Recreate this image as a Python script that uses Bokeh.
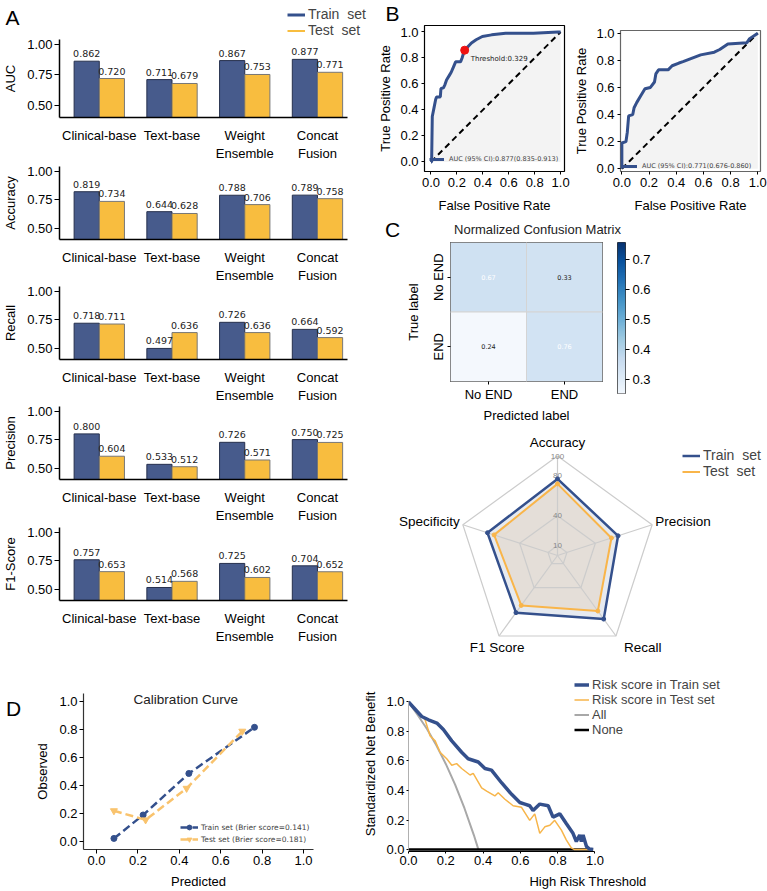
import numpy as np
from bokeh.plotting import figure
from bokeh.layouts import row, column
from bokeh.models import (ColumnDataSource, FixedTicker, Legend, LegendItem,
                          Spacer, LinearColorMapper, NumeralTickFormatter, FactorRange)
from bokeh.transform import dodge
from bokeh.core.properties import value
from bokeh.palettes import Blues256
from bokeh.embed import file_html
from bokeh.resources import INLINE

SANS = "Liberation Sans"
MPL = "DejaVu Sans"
NAVY = "#475b8c"
GOLD = "#f8bd3f"
LINE_NAVY = "#34508c"
LINE_GOLD = "#f8b84e"

# ---------------- Panel A: metrics per model ----------------
models = ["Clinical-base", "Text-base", "Weight\nEnsemble", "Concat\nFusion"]
auc_train = [0.862, 0.711, 0.867, 0.877]
auc_test = [0.720, 0.679, 0.753, 0.771]
acc_train = [0.819, 0.644, 0.788, 0.789]
acc_test = [0.734, 0.628, 0.706, 0.758]
rec_train = [0.718, 0.497, 0.726, 0.664]
rec_test = [0.711, 0.636, 0.636, 0.592]
prec_train = [0.800, 0.533, 0.726, 0.750]
prec_test = [0.604, 0.512, 0.571, 0.725]
f1_train = [0.757, 0.514, 0.725, 0.704]
f1_test = [0.653, 0.568, 0.602, 0.652]
bar_ticks = [0.50, 0.75, 1.00]

# ---------------- Panel B: ROC curves ----------------
roc_train_fpr = [0.0, 0.005, 0.01, 0.024, 0.036, 0.043, 0.072, 0.077, 0.096, 0.108, 0.12, 0.144,
                 0.156, 0.173, 0.19, 0.228, 0.24, 0.252, 0.268, 0.288, 0.312, 0.348, 0.396,
                 0.468, 0.576, 0.79, 0.98, 1.0]
roc_train_tpr = [0.0, 0.0, 0.35, 0.42, 0.48, 0.50, 0.50, 0.565, 0.57, 0.595, 0.63, 0.67,
                 0.69, 0.73, 0.77, 0.77, 0.80, 0.84, 0.867, 0.89, 0.916, 0.94, 0.965,
                 0.978, 0.99, 0.99, 1.0, 1.0]
roc_test_fpr = [0.0, 0.0, 0.03, 0.04, 0.05, 0.08, 0.09, 0.11, 0.14, 0.17, 0.21, 0.24, 0.25,
                0.27, 0.34, 0.37, 0.42, 0.45, 0.58, 0.68, 0.72, 0.78, 0.92, 0.94, 1.0]
roc_test_tpr = [0.0, 0.19, 0.20, 0.27, 0.39, 0.40, 0.45, 0.49, 0.54, 0.59, 0.60, 0.64, 0.70,
                0.73, 0.73, 0.76, 0.78, 0.79, 0.84, 0.86, 0.88, 0.92, 0.93, 0.96, 1.0]
chance = [0.0, 1.0]
cutoff_fpr, cutoff_tpr, cutoff_value = 0.26, 0.86, 0.329
auc_train_text = "AUC (95% CI):0.877(0.835-0.913)"
auc_test_text = "AUC (95% CI):0.771(0.676-0.860)"
rate_ticks = [0.0, 0.2, 0.4, 0.6, 0.8, 1.0]

# ---------------- Panel C: confusion matrix and radar ----------------
cm_labels = ["No END", "END"]
cm_true = ["No END", "No END", "END", "END"]
cm_pred = ["No END", "END", "No END", "END"]
cm_vals = [0.67, 0.33, 0.24, 0.76]
cm_fill = ["#cfe1f2", "#d1e2f2", "#f4f8fd", "#d2e3f3"]
cm_text_color = ["white", "#222222", "#222222", "white"]
cbar_low, cbar_high = 0.24, 0.76
cbar_ticks = [0.3, 0.4, 0.5, 0.6, 0.7]

radar_axes = ["Accuracy", "Precision", "Recall", "F1 Score", "Specificity"]
radar_train = [77, 64, 79, 71, 74]
radar_test = [72, 57, 69, 62, 67]
radar_tick_vals = [10, 40, 80, 100]
radar_rings = [10, 40, 100]

# ---------------- Panel D: calibration and decision curves ----------------
cal_train_pred = [0.084, 0.225, 0.446, 0.763]
cal_train_obs = [0.023, 0.19, 0.486, 0.815]
cal_test_pred = [0.084, 0.237, 0.435, 0.704]
cal_test_obs = [0.22, 0.155, 0.38, 0.787]
unit_ticks = [0.0, 0.2, 0.4, 0.6, 0.8, 1.0]

dca_train_t = [0.0, 0.071, 0.107, 0.152, 0.187, 0.232, 0.285, 0.32, 0.374, 0.41, 0.445, 0.5,
               0.553, 0.597, 0.624, 0.65, 0.668, 0.704, 0.749, 0.775, 0.811, 0.846, 0.882,
               0.9, 0.918, 0.927, 0.936, 0.954, 0.97, 0.99]
dca_train_nb = [1.0, 0.901, 0.879, 0.857, 0.813, 0.736, 0.659, 0.615, 0.593, 0.549, 0.538,
                0.451, 0.374, 0.319, 0.308, 0.297, 0.264, 0.308, 0.297, 0.22, 0.242, 0.176,
                0.11, 0.055, 0.099, 0.055, 0.099, 0.022, 0.004, 0.0]
dca_test_t = [0.0, 0.089, 0.116, 0.143, 0.169, 0.205, 0.232, 0.258, 0.285, 0.33, 0.347, 0.392,
              0.419, 0.463, 0.481, 0.517, 0.561, 0.606, 0.65, 0.677, 0.704, 0.731, 0.758,
              0.784, 0.82, 0.846, 0.873, 0.89, 0.98]
dca_test_nb = [1.0, 0.879, 0.769, 0.736, 0.659, 0.615, 0.571, 0.582, 0.549, 0.505, 0.516,
               0.418, 0.396, 0.363, 0.385, 0.341, 0.297, 0.286, 0.198, 0.242, 0.11, 0.154,
               0.165, 0.198, 0.132, 0.066, 0.011, 0.0, 0.0]
dca_all_t = [0.0, 0.05, 0.1, 0.15, 0.2, 0.25, 0.3, 0.35, 0.375]
dca_all_nb = [1.0, 0.91, 0.815, 0.705, 0.58, 0.44, 0.28, 0.10, 0.0]
dca_none_t = [0.0, 0.99]
dca_none_nb = [0.0, 0.0]


def new_fig(width, height, xr, yr, left, right, top, bottom, **kw):
    p = figure(width=width, height=height, x_range=xr, y_range=yr,
               min_border_left=left, min_border_right=right,
               min_border_top=top, min_border_bottom=bottom,
               output_backend="svg", toolbar_location=None, **kw)
    p.frame_align = False
    p.grid.visible = False
    p.background_fill_color = "white"
    p.border_fill_color = "white"
    return p


def header(width, height):
    """A bare strip whose data units are pixels, y growing downwards."""
    p = new_fig(width, height, (0, width), (height, 0), 0, 0, 0, 0,
                x_axis_location=None, y_axis_location=None)
    p.outline_line_color = None
    return p


def put_text(p, x, y, text, size, font=SANS, align="center", color="black"):
    p.text(x=[x], y=[y], text=[text], text_font=value(font), text_font_size=size,
           text_align=align, text_baseline="middle", text_color=color)


def style_axes(p, size="13px"):
    for ax in p.axis:
        ax.major_label_text_font = SANS
        ax.major_label_text_font_size = size
        ax.major_label_text_color = "black"
        ax.axis_label_text_font = SANS
        ax.axis_label_text_font_size = size
        ax.axis_label_text_font_style = "normal"
        ax.axis_label_text_color = "black"
        ax.minor_tick_line_color = None
        ax.major_tick_in = 0


def add_legend(p, entries, loc, font, size, gw, gh, lh, standoff=3):
    items = [LegendItem(label=t, renderers=r) for t, r in entries]
    lg = Legend(items=items, location=loc, label_text_font=font,
                label_text_font_size=size, glyph_width=gw, glyph_height=gh,
                label_height=lh, spacing=0, padding=0, margin=0,
                label_standoff=standoff, border_line_color=None,
                background_fill_alpha=0)
    p.add_layout(lg)
    return lg


def bar_panel(name, train, test, height, top, bottom):
    src = ColumnDataSource(dict(
        pos=list(range(len(models))), train=train, test=test,
        train_txt=[f"{v:.3f}" for v in train], test_txt=[f"{v:.3f}" for v in test]))
    p = new_fig(375, height, (-0.547, 3.413), (0.40, 1.04), 50, 28, top, bottom)
    p.outline_line_color = None
    half = 0.173
    p.vbar(x=dodge("pos", -half), top="train", bottom=0, width=2 * half, source=src,
           fill_color=NAVY, line_color="#26304d", line_width=1)
    p.vbar(x=dodge("pos", half), top="test", bottom=0, width=2 * half, source=src,
           fill_color=GOLD, line_color="#777777", line_width=1)
    for field, txt, off in (("train", "train_txt", -half), ("test", "test_txt", half)):
        p.text(x=dodge("pos", off), y=field, text=txt, source=src, text_align="center",
               text_baseline="bottom", y_offset=-4, text_font=value(MPL),
               text_font_size="9.5px", text_color="#222222")
    style_axes(p)
    p.xaxis.ticker = FixedTicker(ticks=list(range(len(models))))
    p.xaxis.major_label_overrides = {i: m for i, m in enumerate(models)}
    p.xaxis.major_tick_line_color = None
    p.xaxis.major_label_standoff = 4
    p.xaxis.axis_line_width = 1.5
    p.yaxis.ticker = FixedTicker(ticks=bar_ticks)
    p.yaxis.formatter = NumeralTickFormatter(format="0.00")
    p.yaxis.axis_label = name
    p.yaxis.major_tick_out = 5
    p.yaxis.major_label_standoff = 2
    p.yaxis.axis_label_standoff = 6
    p.yaxis.axis_line_width = 1.5
    return p


# header strip of panel A: letter and legend (renderers hold a single gap point,
# they only lend their line style to the legend)
head_a = header(375, 38)
put_text(head_a, 12, 17, "A", "21px")
ha_train = head_a.line(x=[np.nan], y=[np.nan], line_color=LINE_NAVY, line_width=3)
ha_test = head_a.line(x=[np.nan], y=[np.nan], line_color=GOLD, line_width=2)
add_legend(head_a, [("Train  set", [ha_train]), ("Test  set", [ha_test])], (287, 0),
           SANS, "14px", 18, 15, 15)

auc_p = bar_panel("AUC", auc_train, auc_test, 127, 1, 48)
acc_p = bar_panel("Accuracy", acc_train, acc_test, 120, 1, 41)
rec_p = bar_panel("Recall", rec_train, rec_test, 120, 1, 41)
prec_p = bar_panel("Precision", prec_train, prec_test, 120, 1, 41)
f1_p = bar_panel("F1-Score", f1_train, f1_test, 121, 2, 41)


# ---------------- ROC panels ----------------
def roc_panel(fpr, tpr, width, xr, yr, left, right, top, bottom, frame_color, leg_text, leg_loc):
    p = new_fig(width, 191, xr, yr, left, right, top, bottom)
    p.outline_line_color = frame_color
    p.outline_line_width = 1.2
    p.varea(x=fpr, y1=0, y2=tpr, fill_color="#f3f3f3")
    p.line(chance, chance, line_color="black", line_width=2, line_dash="6 4")
    r = p.line(fpr, tpr, line_color=LINE_NAVY, line_width=3)
    style_axes(p)
    for ax in p.axis:
        ax.ticker = FixedTicker(ticks=rate_ticks)
        ax.formatter = NumeralTickFormatter(format="0.0")
        ax.axis_line_color = None
        ax.major_tick_out = 3
        ax.major_label_standoff = 3
    p.xaxis.axis_label = "False Positive Rate"
    p.yaxis.axis_label = "True Positive Rate"
    p.xaxis.axis_label_standoff = 8
    p.yaxis.axis_label_standoff = 4
    add_legend(p, [(leg_text, [r])], leg_loc, MPL, "6.5px", 15, 8, 8, 5)
    return p


head_b = header(392, 24)
put_text(head_b, 17, 13, "B", "21px")

roc1 = roc_panel(roc_train_fpr, roc_train_tpr, 196, (-0.05, 1.03), (-0.074, 1.05),
                 38, 7, 1, 38, "black", auc_train_text, (5, 8))
roc1.scatter([cutoff_fpr], [cutoff_tpr], size=8, color="#ee1111")
roc1.text(x=[cutoff_fpr], y=[cutoff_tpr], text=[f"Threshold:{cutoff_value}"],
          x_offset=6, y_offset=9, text_font=value(MPL), text_font_size="7px",
          text_baseline="middle", text_color="#222222")

roc2 = roc_panel(roc_test_fpr, roc_test_tpr, 196, (-0.01, 1.02), (-0.02, 1.02),
                 46, 7, 6, 40, "#666666", auc_test_text, (2, 1))

# ---------------- Confusion matrix ----------------
head_c = header(392, 27)
put_text(head_c, 17, 14, "C", "21px")
put_text(head_c, 162, 14, "Normalized Confusion Matrix", "13px", color="#222222")

cm_src = ColumnDataSource(dict(true=cm_true, pred=cm_pred, val=cm_vals, fill=cm_fill,
                               tc=cm_text_color, txt=[f"{v:.2f}" for v in cm_vals]))
cm_p = new_fig(234, 183, FactorRange(*cm_labels), FactorRange(*cm_labels[::-1]),
               75, 7, 0, 32)
cm_p.outline_line_color = "black"
cm_p.rect(x="pred", y="true", width=1, height=1, source=cm_src, fill_color="fill",
          line_color="#d4d4d4", line_width=1)
cm_p.text(x="pred", y="true", text="txt", source=cm_src, text_color="tc",
          text_align="center", text_baseline="middle", text_font=value(MPL),
          text_font_size="6.5px")
style_axes(cm_p)
for ax in cm_p.axis:
    ax.axis_line_color = None
    ax.major_tick_out = 3
    ax.major_label_standoff = 2
cm_p.xaxis.axis_label = "Predicted label"
cm_p.yaxis.axis_label = "True label"
cm_p.yaxis.major_label_orientation = "vertical"
cm_p.xaxis.axis_label_standoff = 3
cm_p.yaxis.axis_label_standoff = 7

cb_mapper = LinearColorMapper(palette=Blues256[::-1], low=cbar_low, high=cbar_high)
cb_p = new_fig(158, 183, (0, 1), (cbar_low + 0.013, cbar_high - 0.003), 8, 142, 0, 32,
               x_axis_location=None, y_axis_location="right")
cb_p.image(image=[np.linspace(cbar_low, cbar_high, 256).reshape(256, 1)], x=0, y=cbar_low,
           dw=1, dh=cbar_high - cbar_low, color_mapper=cb_mapper)
cb_p.outline_line_color = "#333333"
style_axes(cb_p)
cb_p.yaxis.ticker = FixedTicker(ticks=cbar_ticks)
cb_p.yaxis.formatter = NumeralTickFormatter(format="0.0")
cb_p.yaxis.axis_line_color = None
cb_p.yaxis.major_tick_out = 4
cb_p.yaxis.major_label_standoff = 3

# ---------------- Radar ----------------
scale = 0.995
radar_p = new_fig(392, 240, (-182 / scale, 210 / scale), (-110 / scale, 130 / scale),
                  0, 0, 0, 0)
radar_p.outline_line_color = None
radar_p.axis.visible = False
n_ax = len(radar_axes)
ang = np.pi / 2 - 2 * np.pi * np.arange(n_ax) / n_ax
cosA, sinA = np.cos(ang), np.sin(ang)


def closed(vals):
    v = np.asarray(vals, dtype=float)
    xs, ys = v * cosA, v * sinA
    return list(xs) + [xs[0]], list(ys) + [ys[0]]


tx, ty = closed(radar_train)
sx, sy = closed(radar_test)
radar_p.patch(tx, ty, fill_color="#e6eaf0", line_color=None)
radar_p.patch(sx, sy, fill_color="#e4ded8", line_color=None)
for lvl in radar_rings:
    gx, gy = closed([lvl] * n_ax)
    radar_p.line(gx, gy, line_color="#cccccc", line_width=1.2)
radar_p.segment(x0=[0] * n_ax, y0=[0] * n_ax, x1=list(100 * cosA), y1=list(100 * sinA),
                line_color="#cccccc", line_width=1.2)
radar_p.text(x=[0] * len(radar_tick_vals), y=radar_tick_vals,
             text=[str(v) for v in radar_tick_vals], text_align="center",
             text_baseline="middle", text_font=value(SANS), text_font_size="8px",
             text_color="#888888")
r_tr = radar_p.line(tx, ty, line_color=LINE_NAVY, line_width=2.5)
radar_p.scatter(tx[:-1], ty[:-1], size=4, color=LINE_NAVY)
r_te = radar_p.line(sx, sy, line_color="#f9b54a", line_width=2)
radar_p.scatter(sx[:-1], sy[:-1], size=4, color="#f9b54a")
lab_align = ["center", "left", "left", "center", "right"]
lab_base = ["bottom", "middle", "top", "top", "middle"]
lab_dx = [0, 3, 8, -2, -3]
lab_dy = [-6, -3, 4, 4, -3]
radar_p.text(x=list(100 * cosA), y=list(100 * sinA), text=radar_axes,
             text_align=lab_align, text_baseline=lab_base, x_offset=lab_dx, y_offset=lab_dy,
             text_font=value(SANS), text_font_size="13.5px", text_color="black")
add_legend(radar_p, [("Train  set", [r_tr]), ("Test  set", [r_te])], (307, 186),
           SANS, "14px", 18, 13, 13)

# ---------------- Calibration curve ----------------
head_d = header(30, 226)
put_text(head_d, 13, 43, "D", "21px")

cal_p = new_fig(330, 226, (-0.063, 1.048), (-0.056, 1.056), 53, 47, 28, 38)
cal_p.outline_line_color = None
c1 = cal_p.line(cal_train_pred, cal_train_obs, line_color=LINE_NAVY, line_width=2.5,
                line_dash="8 4")
c1m = cal_p.scatter(cal_train_pred, cal_train_obs, size=6, color=LINE_NAVY)
c2 = cal_p.line(cal_test_pred, cal_test_obs, line_color="#f9c36d", line_width=2.5,
                line_dash="8 4")
c2m = cal_p.scatter(cal_test_pred, cal_test_obs, size=7, marker="inverted_triangle",
                    color="#f9c36d")
style_axes(cal_p)
for ax in cal_p.axis:
    ax.ticker = FixedTicker(ticks=unit_ticks)
    ax.formatter = NumeralTickFormatter(format="0.0")
    ax.axis_line_color = "#333333"
    ax.axis_line_width = 1.2
    ax.major_tick_out = 4
    ax.major_label_standoff = 2
cal_p.xaxis.axis_label = "Predicted"
cal_p.yaxis.axis_label = "Observed"
cal_p.xaxis.axis_label_standoff = 6
cal_p.yaxis.axis_label_standoff = 6
cal_p.text(x=[0.44], y=[1.014], text=["Calibration  Curve"], text_font=value(SANS),
           text_font_size="13.5px", text_align="center", text_baseline="middle",
           text_color="#222222")
add_legend(cal_p, [("Train set (Brier score=0.141)", [c1, c1m]),
                   ("Test set (Brier score=0.181)", [c2, c2m])], (97, 4),
           MPL, "7.5px", 18, 12, 12)

# ---------------- Decision curve ----------------
# the frame runs to the right edge so the legend sits inside it; axis bounds keep
# the rules on the 0-1 threshold and benefit span
dca_p = new_fig(407, 226, (0.0, 1.925), (-0.013, 1.172), 47, 0, 11, 36)
dca_p.outline_line_color = None
d_all = dca_p.line(dca_all_t, dca_all_nb, line_color="#a8a8a8", line_width=2)
d_none = dca_p.line(dca_none_t, dca_none_nb, line_color="black", line_width=2.5)
d_test = dca_p.line(dca_test_t, dca_test_nb, line_color="#f7b54a", line_width=1.5)
d_train = dca_p.line(dca_train_t, dca_train_nb, line_color=LINE_NAVY, line_width=3.5)
style_axes(dca_p)
for ax in dca_p.axis:
    ax.ticker = FixedTicker(ticks=unit_ticks)
    ax.formatter = NumeralTickFormatter(format="0.0")
    ax.major_tick_out = 2
    ax.major_label_standoff = 2
    ax.bounds = (0.0, 1.0)
dca_p.yaxis.axis_line_color = "#b0b0b0"
dca_p.xaxis.axis_line_color = "black"
dca_p.xaxis.axis_label = "High Risk Threshold"
dca_p.yaxis.axis_label = "Standardized Net Benefit"
dca_p.xaxis.axis_label_standoff = 6
dca_p.yaxis.axis_label_standoff = 5
add_legend(dca_p, [("Risk score in Train set", [d_train]),
                   ("Risk score in Test set", [d_test]),
                   ("All", [d_all]), ("None", [d_none])], (166, 114),
           SANS, "13px", 15, 13, 13)

# ---------------- Layout ----------------
left_col = column(head_a, auc_p, acc_p, rec_p, prec_p, f1_p,
                  Spacer(width=375, height=19), spacing=0)
right_col = column(head_b, row(roc1, roc2, spacing=0), head_c, row(cm_p, cb_p, spacing=0),
                   radar_p, spacing=0)
layout = column(row(left_col, right_col, spacing=0),
                row(head_d, cal_p, dca_p, spacing=0), spacing=0)

open("out.html", "w").write(file_html(layout, INLINE))
